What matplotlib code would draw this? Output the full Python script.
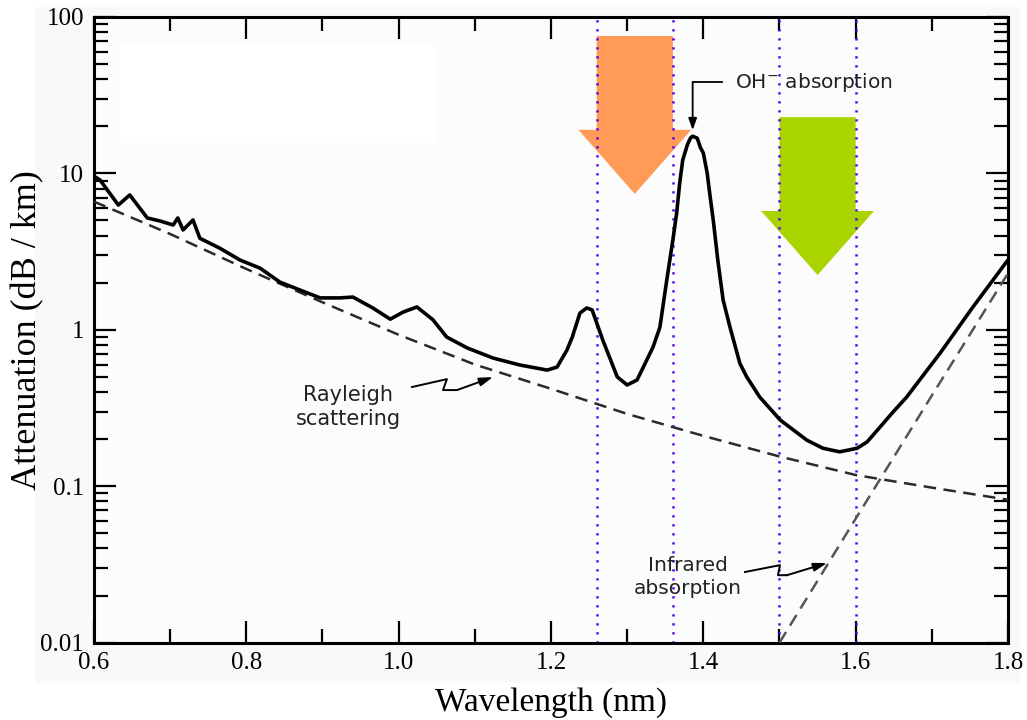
import matplotlib.pyplot as plt
from matplotlib.patches import Polygon, Rectangle
from matplotlib.ticker import MultipleLocator, LogLocator, NullFormatter

plt.rcParams['font.family'] = ['Liberation Serif', 'DejaVu Serif']

# measured fibre attenuation (dB/km) vs wavelength
wl_total = [0.600, 0.608, 0.632, 0.647, 0.670, 0.687, 0.704, 0.710, 0.717, 0.730,
            0.739, 0.765, 0.792, 0.818, 0.844, 0.870, 0.897, 0.923, 0.940, 0.966,
            0.989, 1.006, 1.024, 1.045, 1.063, 1.090, 1.124, 1.159, 1.195, 1.208,
            1.221, 1.228, 1.238, 1.247, 1.254, 1.268, 1.287, 1.300, 1.313, 1.334,
            1.343, 1.352, 1.360, 1.365, 1.369, 1.373, 1.379, 1.383, 1.386, 1.392,
            1.396, 1.400, 1.405, 1.409, 1.413, 1.419, 1.426, 1.435, 1.448, 1.457,
            1.474, 1.501, 1.536, 1.557, 1.579, 1.602, 1.615, 1.632, 1.649, 1.667,
            1.711, 1.754, 1.800]
att_total = [9.6, 9.07, 6.28, 7.28, 5.19, 4.96, 4.68, 5.19, 4.35, 5.04,
             3.85, 3.33, 2.79, 2.48, 2.02, 1.80, 1.60, 1.60, 1.62, 1.38,
             1.17, 1.30, 1.40, 1.16, 0.90, 0.766, 0.660, 0.596, 0.553, 0.578,
             0.743, 0.90, 1.28, 1.38, 1.34, 0.86, 0.50, 0.444, 0.478, 0.776,
             1.04, 2.08, 3.75, 5.58, 8.7, 12.2, 15.2, 16.8, 17.3, 16.8,
             14.7, 13.5, 10.1, 7.07, 5.04, 2.79, 1.55, 1.04, 0.61, 0.50,
             0.372, 0.265, 0.197, 0.175, 0.166, 0.175, 0.192, 0.239, 0.298, 0.372,
             0.711, 1.40, 2.80]

wl_rayleigh = [0.6, 0.7, 0.8, 0.9, 1.0, 1.1, 1.2, 1.3, 1.4, 1.5, 1.6, 1.7, 1.8]
att_rayleigh = [6.6, 4.1, 2.45, 1.5, 0.93, 0.6, 0.42, 0.29, 0.21, 0.155, 0.118, 0.098, 0.082]

wl_infrared = [1.5, 1.6, 1.7, 1.8]
att_infrared = [0.01, 0.062, 0.38, 2.3]

# transmission windows (dotted lines)
windows = [(1.26, 1.36), (1.50, 1.60)]

x_ticks = [0.6, 0.8, 1.0, 1.2, 1.4, 1.6, 1.8]
x_labels = ['0.6', '0.8', '1.0', '1.2', '1.4', '1.6', '1.8']
y_ticks = [0.01, 0.1, 1, 10, 100]
y_labels = ['0.01', '0.1', '1', '10', '100']

fig = plt.figure(figsize=(10.27, 7.2), dpi=100)
fig.patch.set_facecolor('white')
fig.patches.append(Rectangle((35 / 1027, 1 - 683 / 720), 985 / 1027, 676 / 720,
                             transform=fig.transFigure, facecolor='#f9f9f9',
                             edgecolor='none', zorder=-10))
ax = fig.add_axes([0.0915, 0.1074, 0.89, 0.869])
ax.set_facecolor('#fcfcfc')
ax.add_patch(Rectangle((0.028, 0.799), 0.345, 0.156, transform=ax.transAxes,
                       facecolor='white', edgecolor='none', zorder=0.5))

ax.set_yscale('log')
ax.set_xlim(0.6, 1.8)
ax.set_ylim(0.01, 100)


def down_arrow(x0, x1, top, base, tip, color, ext=0.024):
    mid = (x0 + x1) / 2
    pts = [(x0, top), (x1, top), (x1, base), (x1 + ext, base), (mid, tip),
           (x0 - ext, base), (x0, base)]
    ax.add_patch(Polygon(pts, closed=True, facecolor=color, edgecolor='none', zorder=1))


down_arrow(windows[0][0], windows[0][1], 75.6, 19.0, 7.4, '#ff9a57')
down_arrow(windows[1][0], windows[1][1], 22.9, 5.75, 2.24, '#aad400')

for lo, hi in windows:
    for xv in (lo, hi):
        ax.axvline(xv, color='#5500ee', lw=1.8, dashes=(0.9, 2.7), zorder=2)

ax.plot(wl_rayleigh, att_rayleigh, color='#2a2a2a', lw=1.8, dashes=(5, 3), zorder=3)
ax.plot(wl_infrared, att_infrared, color='#555555', lw=1.8, dashes=(5, 3), zorder=3)
ax.plot(wl_total, att_total, color='black', lw=2.6, solid_joinstyle='round',
        solid_capstyle='round', zorder=4)

# annotations
ann_font = dict(family='DejaVu Sans', color='#222222')
ax.text(1.4415, 38.4, r'OH$^{-}$ absorption', fontsize=14.5, ha='left', va='center', **ann_font)
ax.plot([1.4245, 1.386], [38.4, 38.4], color='black', lw=1.3, zorder=5)
ax.annotate('', xy=(1.386, 18.9), xytext=(1.386, 38.4),
            arrowprops=dict(arrowstyle='-|>,head_length=0.7,head_width=0.25',
                            color='black', lw=1.3, shrinkA=0, shrinkB=0), zorder=5)

ax.text(0.9335, 0.321, 'Rayleigh\nscattering', fontsize=15, ha='center', va='center',
        linespacing=1.25, **ann_font)
ax.text(1.3798, 0.0262, 'Infrared\nabsorption', fontsize=14.5, ha='center', va='center',
        linespacing=1.25, **ann_font)


def squiggle(xs, ys):
    ax.plot(xs[:-1], ys[:-1], color='black', lw=1.4, zorder=5, solid_joinstyle='round')
    ax.annotate('', xy=(xs[-1], ys[-1]), xytext=(xs[-2], ys[-2]),
                arrowprops=dict(arrowstyle='-|>,head_length=0.8,head_width=0.25',
                                color='black', lw=1.4, shrinkA=0, shrinkB=0), zorder=5)


squiggle([1.0175, 1.0634, 1.0582, 1.0766, 1.1238], [0.431, 0.484, 0.412, 0.412, 0.499])
squiggle([1.4547, 1.5006, 1.498, 1.5098, 1.5623], [0.0283, 0.0313, 0.027, 0.027, 0.0323])

# axes, ticks
ax.set_xticks(x_ticks)
ax.set_xticklabels(x_labels)
ax.xaxis.set_minor_locator(MultipleLocator(0.1))
ax.set_yticks(y_ticks)
ax.set_yticklabels(y_labels)
ax.yaxis.set_minor_locator(LogLocator(base=10, subs=range(2, 10)))
ax.yaxis.set_minor_formatter(NullFormatter())
ax.tick_params(which='both', direction='in', top=True, right=True, width=1.6, color='black')
ax.tick_params(which='major', length=16, labelsize=18, pad=7)
ax.tick_params(which='minor', length=10)
for sp in ax.spines.values():
    sp.set_linewidth(2.2)

ax.set_xlabel('Wavelength (nm)', fontsize=24, labelpad=9)
ax.set_ylabel('Attenuation (dB / km)', fontsize=26, labelpad=-3)

fig.savefig('out.png', dpi=100)
